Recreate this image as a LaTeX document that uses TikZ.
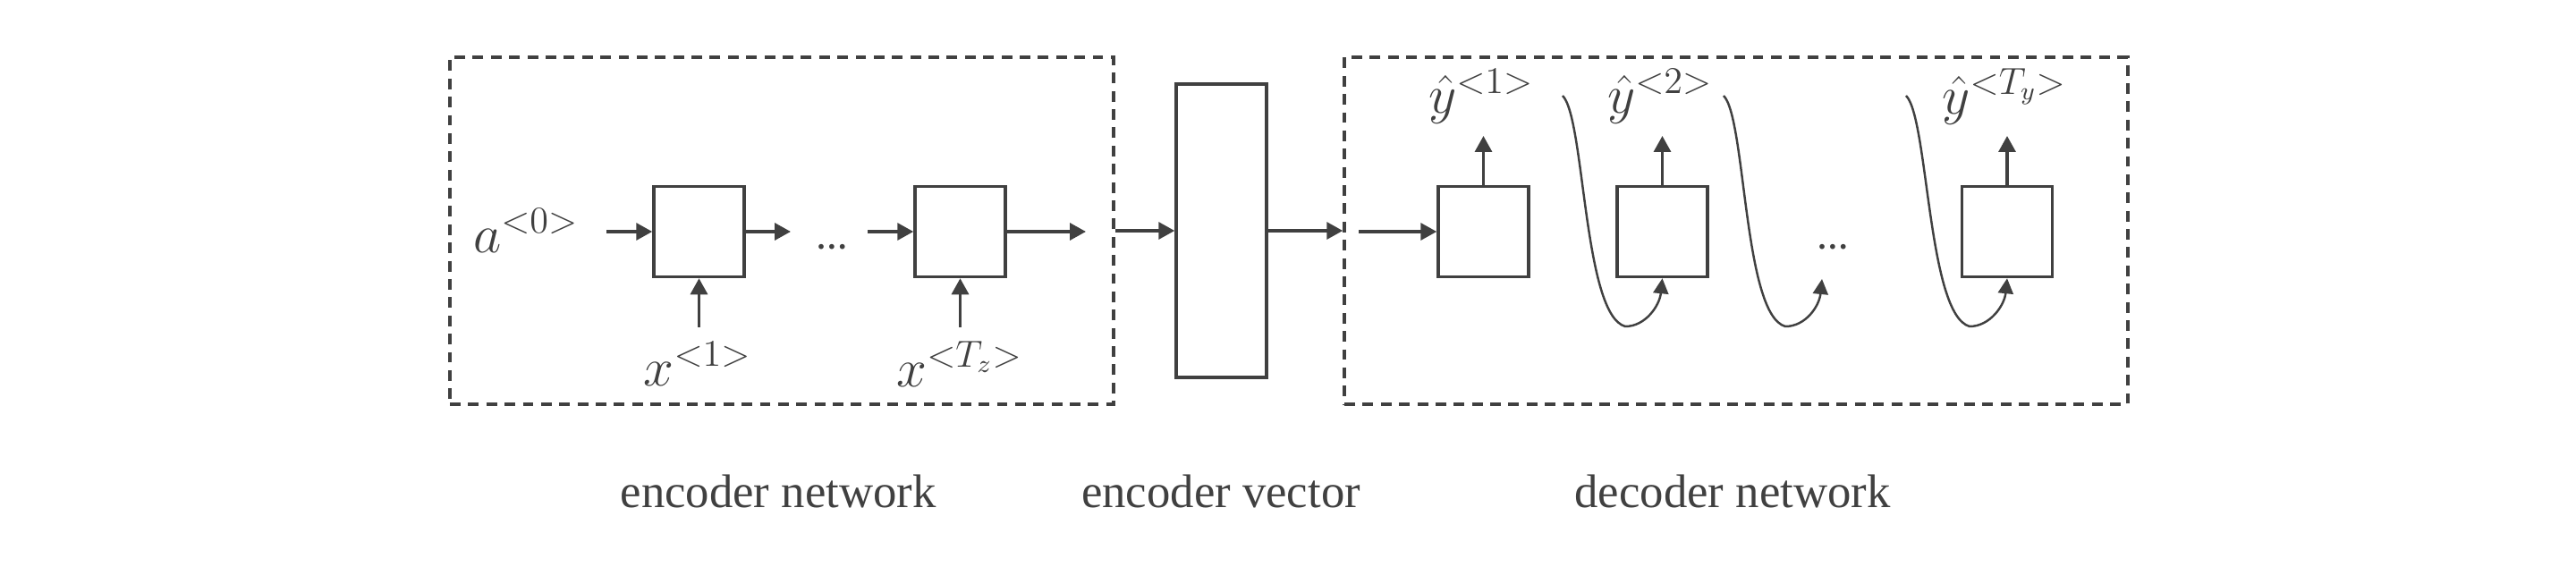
\documentclass[tikz,border=0pt]{standalone}
\usepackage{fontspec}
\setmainfont{Liberation Serif}
\usetikzlibrary{arrows.meta}
\definecolor{ink}{HTML}{404040}
\tikzset{
cell/.style={draw=ink, line width=1pt, minimum width=1.01cm, minimum height=1.01cm, inner sep=0pt},
frame/.style={draw=ink, line width=1pt, dash pattern=on 3.4pt off 2.4pt, inner sep=0pt},
arr/.style={draw=ink, line width=0.95pt, -{Triangle[length=1.8mm,width=1.9mm]}},
fb/.style={draw=ink, line width=0.7pt, -{Triangle[length=1.7mm,width=1.7mm]}},
lbl/.style={text=ink, font=\fontsize{17}{20}\selectfont},
ellip/.style={text=ink, inner sep=0pt, font=\fontsize{10}{12}\selectfont\bfseries},
netlabel/.style={text=ink, font=\fontsize{15}{18}\selectfont}
}
\begin{document}
\begin{tikzpicture}
\useasboundingbox (0,0) rectangle (28.8,6.52);
\path node[frame, minimum width=7.42cm, minimum height=3.88cm] (enc) at (8.74,3.94) {}
node[frame, minimum width=8.76cm, minimum height=3.88cm] (dec) at (19.41,3.94) {}
node[cell, minimum height=3.28cm] (vec) at (13.655,3.94) {}
node[cell] (e1) at (7.815,3.93) {}
node[cell] (e2) at (10.735,3.93) {}
node[cell] (d1) at (16.585,3.93) {}
node[cell] (d2) at (18.585,3.93) {}
node[cell] (d3) at (22.44,3.93) {}
node[lbl] (a0) at (5.88,3.94) {$a^{<0>}$}
node[lbl] (x1) at (7.80,2.45) {$x^{<1>}$}
node[lbl] (xT) at (10.73,2.45) {$x^{<T_z>}$}
node[lbl] (y1) at (16.56,5.44) {$\hat{y}^{<1>}$}
node[lbl] (y2) at (18.56,5.44) {$\hat{y}^{<2>}$}
node[lbl] (yT) at (22.41,5.44) {$\hat{y}^{<T_y>}$}
node[ellip] (dt1) at (9.30,3.76) {\ldots}
node[ellip] (dt2) at (20.49,3.76) {\ldots}
node[netlabel] (encname) at (8.70,1.03) {encoder network}
node[netlabel] (vecname) at (13.65,1.03) {encoder vector}
node[netlabel] (decname) at (19.37,1.03) {decoder network}
coordinate (a0o) at (6.78,3.93)
coordinate (e1o) at (8.84,3.93)
coordinate (e2i) at (9.70,3.93)
coordinate (e2o) at (12.14,3.93)
coordinate (d1i) at (15.19,3.93)
coordinate (x1o) at (7.815,2.86)
coordinate (xTo) at (10.735,2.86)
coordinate (y1i) at (16.585,5.00)
coordinate (y2i) at (18.585,5.00)
coordinate (yTi) at (22.44,5.00)
coordinate (c1) at (17.47,5.45)
coordinate (b1) at (18.17,2.87)
coordinate (c2) at (19.27,5.45)
coordinate (b2) at (19.96,2.87)
coordinate (t2) at (20.37,3.40)
coordinate (c3) at (21.31,5.45)
coordinate (b3) at (22.02,2.87)
;
% encoder
\draw[arr] (a0o) -- (e1);
\draw[arr] (e1) -- (e1o);
\draw[arr] (e2i) -- (e2);
\draw[arr] (e2) -- (e2o);
\draw[arr] (x1o) -- (e1);
\draw[arr] (xTo) -- (e2);
\draw[arr] (enc) -- (vec);
\draw[arr] (vec) -- (dec);
% decoder
\draw[arr] (d1i) -- (d1);
\draw[arr] (d1) -- (y1i);
\draw[arr] (d2) -- (y2i);
\draw[arr] (d3) -- (yTi);
\draw[fb] (c1) .. controls +(0.25,-0.25) and +(-0.47,0.13) .. (b1) .. controls +(0.23,0) and +(-0.03,-0.3) .. (d2.south);
\draw[fb] (c2) .. controls +(0.25,-0.25) and +(-0.47,0.13) .. (b2) .. controls +(0.23,0) and +(-0.03,-0.3) .. (t2);
\draw[fb] (c3) .. controls +(0.25,-0.25) and +(-0.47,0.13) .. (b3) .. controls +(0.23,0) and +(-0.03,-0.3) .. (d3.south);
\end{tikzpicture}
\end{document}
